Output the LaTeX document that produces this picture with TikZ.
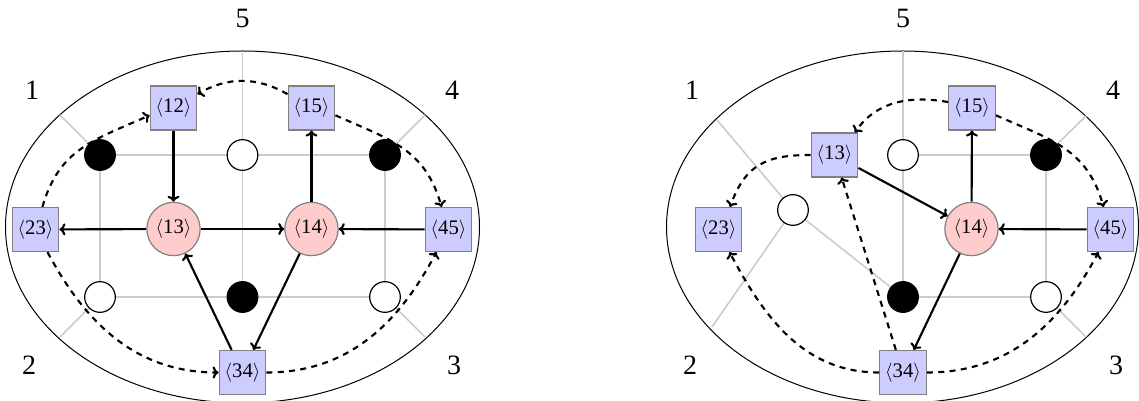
\documentclass[tikz,border=0pt]{standalone}
\usepackage{fontspec}
\setmainfont{Liberation Serif}
\usetikzlibrary{backgrounds,arrows.meta}
\newcommand{\angl}[1]{$\langle$#1$\rangle$}
\begin{document}
\begin{tikzpicture}[x=0.75pt,y=0.75pt,
  sq/.style={draw=black!50, fill=blue!20, line width=0.9pt, minimum width=35pt, minimum height=33pt, inner sep=0pt, font=\fontsize{15.5}{18}\selectfont},
  rc/.style={circle, draw=black!50, fill=red!20, line width=0.9pt, minimum size=40pt, inner sep=0pt, font=\fontsize{15.5}{18}\selectfont},
  bdot/.style={circle, fill=black, draw=black, line width=0.9pt, minimum size=23pt, inner sep=0pt},
  wdot/.style={circle, fill=white, draw=black, line width=0.9pt, minimum size=23pt, inner sep=0pt},
  lab/.style={font=\fontsize{21}{25}\selectfont, inner sep=0pt},
  gridline/.style={draw=black!20, line width=1.2pt},
  arr/.style={-{To[length=4.5pt,width=9pt]}, line width=1.6pt},
  darr/.style={-{To[length=4.5pt,width=9pt]}, line width=1.6pt, dash pattern=on 4.5pt off 4pt},
  rim/.style={draw=black, line width=0.75pt},
]
\clip (0,0) rectangle (1139,400);

% ---------------- left diagram ----------------
\node[lab] (l5) at (242.5,382) {5};
\node[lab] (l1) at (32,310) {1};
\node[lab] (l4) at (452,310) {4};
\node[lab] (l2) at (29,35) {2};
\node[lab] (l3) at (454,35) {3};

\coordinate (ae5) at (242.5,349);
\coordinate (ae1) at (60,285);
\coordinate (ae2) at (60,63);
\coordinate (ae4) at (425,285);
\coordinate (ae3) at (425,63);

\node[bdot] (ad1) at (100,245) {};
\node[wdot] (ad2) at (242.5,245) {};
\node[bdot] (ad3) at (385,245) {};
\node[wdot] (ad4) at (100,103) {};
\node[bdot] (ad5) at (242.5,103) {};
\node[wdot] (ad6) at (385,103) {};

\node[sq] (a12) at (173.5,292) {\angl{12}};
\node[sq] (a15) at (311.5,292) {\angl{15}};
\node[sq] (a23) at (35.5,170.5) {\angl{23}};
\node[sq] (a45) at (448.5,170.5) {\angl{45}};
\node[sq] (a34) at (242.5,27.5) {\angl{34}};
\node[rc] (a13) at (173.5,171) {\angl{13}};
\node[rc] (a14) at (311.5,171) {\angl{14}};

\begin{scope}[on background layer]
  \draw[rim] (242.5,173) ellipse [x radius=177.75pt, y radius=132pt];
  \draw[gridline] (ad1.center) -- (ad2.center) -- (ad3.center);
  \draw[gridline] (ad4.center) -- (ad5.center) -- (ad6.center);
  \draw[gridline] (ad1.center) -- (ad4.center);
  \draw[gridline] (ad3.center) -- (ad6.center);
  \draw[gridline] (ae5) -- (ad5.center);
  \draw[gridline] (ae1) -- (ad1.center);
  \draw[gridline] (ae2) -- (ad4.center);
  \draw[gridline] (ae4) -- (ad3.center);
  \draw[gridline] (ae3) -- (ad6.center);
\end{scope}

\draw[arr] (a12) -- (a13);
\draw[arr] (a14) -- (a15);
\draw[arr] (a13) -- (a23);
\draw[arr] (a13) -- (a14);
\draw[arr] (a45) -- (a14);
\draw[arr] (a34) -- (a13);
\draw[arr] (a14) -- (a34);

\draw[darr] (a15.150) to[out=150,in=30] (a12.30);
\draw[darr] (a23.73) to[out=74,in=204,looseness=1.1] (a12.197);
\draw[darr] (a15.-17) to[out=-24,in=106,looseness=1.1] (a45.107);
\draw[darr] (a23.-62) to[out=-62,in=180] (a34.west);
\draw[darr] (a34.east) to[out=0,in=-118] (a45.-118);

% ---------------- right diagram ----------------
\node[lab] (m5) at (903,382) {5};
\node[lab] (m1) at (692,310) {1};
\node[lab] (m4) at (1113,310) {4};
\node[lab] (m2) at (690,35) {2};
\node[lab] (m3) at (1116,35) {3};

\coordinate (be5) at (903,349);
\coordinate (be1) at (717,280);
\coordinate (be2) at (712,73);
\coordinate (be4) at (1086,284);
\coordinate (be3) at (1086,63);

\node[wdot] (bd2) at (903,245) {};
\node[bdot] (bd3) at (1046,245) {};
\node[wdot] (bd4) at (793,190) {};
\node[bdot] (bd5) at (903,103) {};
\node[wdot] (bd6) at (1046,103) {};

\node[sq] (b15) at (972,292) {\angl{15}};
\node[sq] (b13) at (834.5,245) {\angl{13}};
\node[sq] (b23) at (718.5,170.5) {\angl{23}};
\node[sq] (b45) at (1110.5,170.5) {\angl{45}};
\node[sq] (b34) at (903,27.5) {\angl{34}};
\node[rc] (b14) at (971.5,171) {\angl{14}};

\begin{scope}[on background layer]
  \draw[rim] (902.5,173) ellipse [x radius=177pt, y radius=132pt];
  \draw[gridline] (be5) -- (bd2.center) -- (bd5.center);
  \draw[gridline] (bd2.center) -- (bd3.center) -- (bd6.center) -- (bd5.center);
  \draw[gridline] (be4) -- (bd3.center);
  \draw[gridline] (be3) -- (bd6.center);
  \draw[gridline] (be1) -- (bd4.center) -- (be2);
  \draw[gridline] (bd4.center) -- (bd5.center);
\end{scope}

\draw[arr] (b13) -- (b14);
\draw[arr] (b14) -- (b15);
\draw[arr] (b45) -- (b14);
\draw[arr] (b14) -- (b34);

\draw[darr] (b15.166) to[out=170,in=55] (b13.48);
\draw[darr] (b13.west) to[out=180,in=70,looseness=1.2] (b23.63);
\draw[darr] (b34) -- (b13);
\draw[darr] (b34.west) to[out=180,in=-62] (b23.-64);
\draw[darr] (b15.-17) to[out=-24,in=106,looseness=1.1] (b45.107);
\draw[darr] (b34.east) to[out=0,in=-118] (b45.-118);
\end{tikzpicture}
\end{document}
